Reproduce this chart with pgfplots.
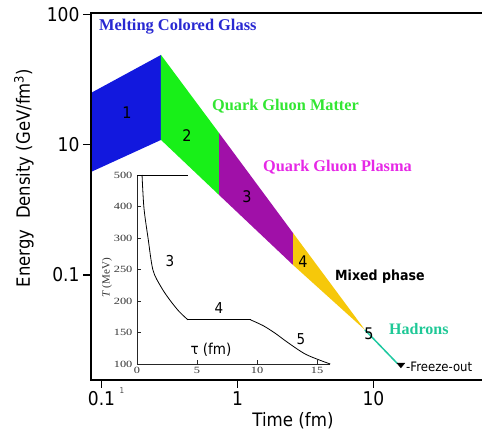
\documentclass[border=0pt]{standalone}
\usepackage{fontspec}
\usepackage{pgfplots}
\pgfplotsset{compat=1.18}
\newfontfamily\sansc[FakeStretch=0.9]{DejaVu Sans}
\newfontfamily\serifr{Liberation Serif}
\definecolor{cblue}{RGB}{18,24,222}
\definecolor{cgreen}{RGB}{24,240,24}
\definecolor{cpurple}{RGB}{160,16,168}
\definecolor{cyellow}{RGB}{246,200,10}
\definecolor{cteal}{RGB}{30,200,160}
\definecolor{tblue}{RGB}{40,40,210}
\definecolor{tgreen}{RGB}{50,230,50}
\definecolor{tmag}{RGB}{230,40,230}
\definecolor{tteal}{RGB}{30,200,150}
\begin{document}
\begin{tikzpicture}
\path[use as bounding box] (0,0) rectangle (482pt,433pt);
\begin{axis}[
  at={(91pt,53pt)}, anchor=south west, scale only axis,
  width=399pt, height=367pt,
  xmode=log, ymode=log,
  xmin=0.0837, xmax=71.9, ymin=0.1556, ymax=103.5,
  xtick={0.1,1,10}, xticklabels={0.1,1,10},
  ytick={1,10,100}, yticklabels={0.1,10,100},
  xminorticks=false, yminorticks=false,
  xtick pos=bottom, ytick pos=left,
  tick align=outside, major tick length=8pt,
  tick style={black, line width=1.1pt},
  axis line style={line width=1.3pt},
  ticklabel style={font=\fontsize{19}{19}\selectfont\sansc},
  /pgf/number format/assume math mode=true,
  axis on top, clip=false,
]
\addplot[fill=cblue, draw=none] coordinates {(0.0837,25.12)(0.2738,49.24)(0.2738,10.93)(0.0837,6.20)};
\addplot[fill=cgreen, draw=none] coordinates {(0.2738,49.24)(0.7311,12.37)(0.7311,4.125)(0.2738,10.93)};
\addplot[fill=cpurple, draw=none] coordinates {(0.7311,12.37)(2.559,2.104)(2.559,1.194)(0.7311,4.125)};
\addplot[fill=cyellow, draw=none] coordinates {(2.559,2.104)(8.66,0.3775)(2.559,1.194)};
\addplot[cteal, line width=1.5pt] coordinates {(8.66,0.3775)(15.0,0.208)};
\addplot[only marks, mark=triangle*, mark size=4.5pt, mark options={rotate=180, yscale=0.7, fill=black, draw=black}] coordinates {(15.9,0.204)};
\addplot[black, line width=2.8pt] coordinates {(0.0837,2.51)(0.0837,0.62)};
\end{axis}
% inset
\begin{axis}[
  at={(137pt,69pt)}, anchor=south west, scale only axis,
  width=193.2pt, height=189pt,
  xmin=0, xmax=16.1, ymin=0, ymax=6,
  axis x line=bottom, axis y line=left,
  axis line style={-, line width=0.8pt, black!85},
  xtick={0,5,10,15}, ytick={0,1,2,3,4,5,6},
  yticklabels={100,150,200,250,300,400,500},
  tick align=inside, major tick length=4pt,
  tick style={black!85, line width=0.7pt},
  ticklabel style={font=\fontsize{9.5}{10}\selectfont\serifr, xscale=1.3, black!80},
  /pgf/number format/assume math mode=true,
  clip=false,
]
\addplot[black, line width=0.8pt] coordinates {(0,6)(4.25,6)};
\addplot[black, smooth, line width=0.8pt] coordinates {(0.42,6)(0.58,4.95)(0.92,4.0)(1.33,2.98)(2.0,2.45)(2.7,2.05)(3.5,1.67)(4.25,1.40)};
\addplot[black, line width=0.8pt] coordinates {(4.25,1.40)(9.47,1.40)};
\addplot[black, smooth, line width=0.8pt] coordinates {(9.47,1.40)(10.5,1.22)(11.5,0.98)(12.5,0.70)(14.1,0.30)(16.1,0)};
\end{axis}
% texts
\begin{scope}[every node/.style={inner sep=0pt}]
\node[font=\fontsize{16}{16}\selectfont\sansc] at (127pt,320pt) {1};
\node[font=\fontsize{16}{16}\selectfont\sansc] at (187pt,297pt) {2};
\node[font=\fontsize{16}{16}\selectfont\sansc] at (247pt,236pt) {3};
\node[font=\fontsize{16}{16}\selectfont\sansc] at (303pt,171pt) {4};
\node[font=\fontsize{16}{16}\selectfont\sansc] at (369pt,99pt) {5};
\node[anchor=west, text=tblue, font=\fontsize{16.4}{16}\selectfont\serifr\bfseries] at (99pt,406pt) {Melting Colored Glass};
\node[anchor=west, text=tgreen, font=\fontsize{16.3}{16}\selectfont\serifr\bfseries] at (212pt,327pt) {Quark Gluon Matter};
\node[anchor=west, text=tmag, font=\fontsize{16.3}{16}\selectfont\serifr\bfseries] at (263pt,266pt) {Quark Gluon Plasma};
\node[anchor=west, font=\fontsize{14}{14}\selectfont\sansc\bfseries] at (335pt,156pt) {Mixed phase};
\node[anchor=west, text=tteal, font=\fontsize{16}{16}\selectfont\serifr\bfseries] at (389pt,104pt) {Hadrons};
\node[anchor=west, font=\fontsize{13}{13}\selectfont\sansc] at (406pt,66pt) {-Freeze-out};
\node[rotate=90, font=\fontsize{18.3}{18.3}\selectfont\sansc] at (24pt,255pt) {Energy\ \ Density (GeV/fm\textsuperscript{3})};
\node[font=\fontsize{18.5}{18.5}\selectfont\sansc] at (293pt,12pt) {Time (fm)};
\node[font=\fontsize{8}{8}\selectfont\sansc, text=black!70] at (122pt,42pt) {1};
% inset labels
\node[rotate=90, font=\fontsize{11}{11}\selectfont\serifr, text=black!80] at (107pt,155pt) {\textit{T} (MeV)};
\node[font=\fontsize{15}{15}\selectfont\sansc] at (211pt,83pt) {τ (fm)};
\node[font=\fontsize{15}{15}\selectfont\sansc] at (170pt,172pt) {3};
\node[font=\fontsize{15}{15}\selectfont\sansc] at (219pt,125pt) {4};
\node[font=\fontsize{15}{15}\selectfont\sansc] at (301pt,94pt) {5};
\end{scope}
\end{tikzpicture}
\end{document}
